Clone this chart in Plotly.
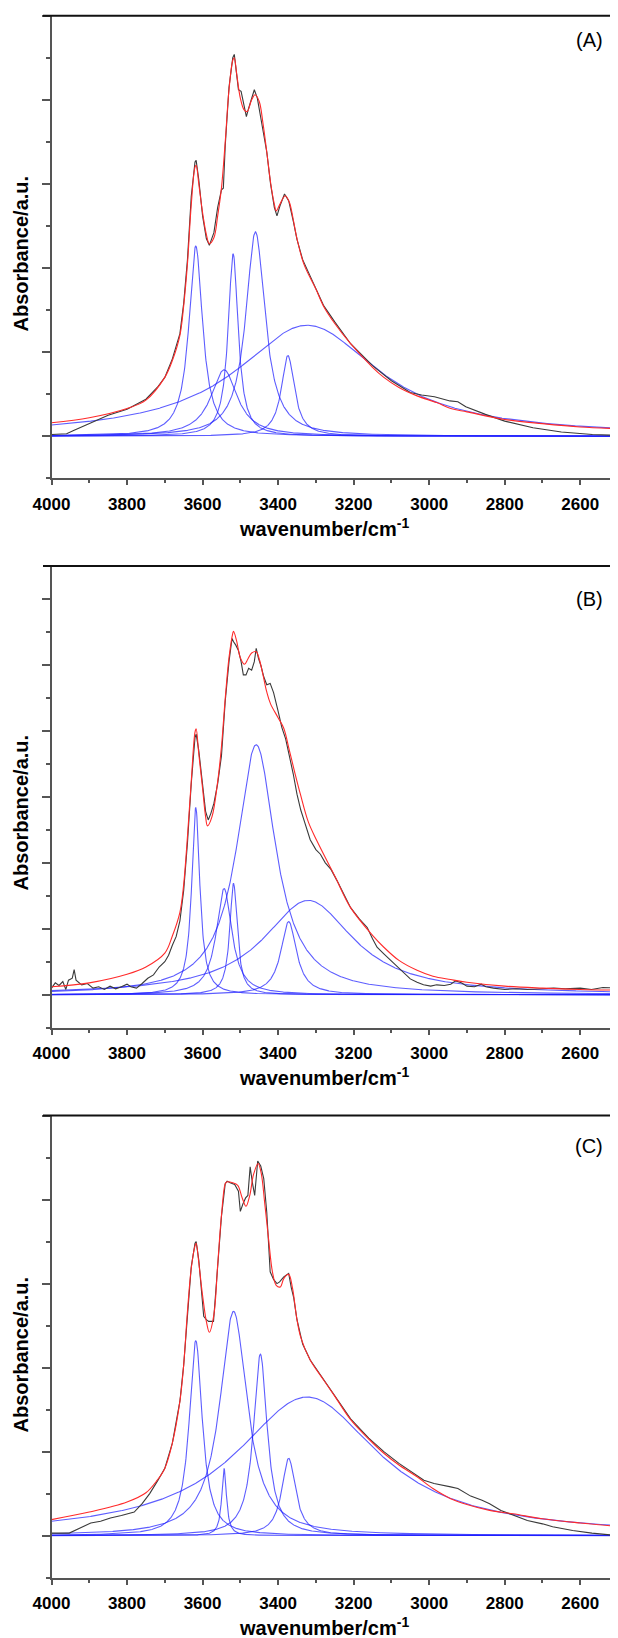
import numpy as np
import plotly.graph_objects as go

# ---------------- data ----------------
# Panel A
A_fit_wn = [4000,3900,3800,3750,3700,3680,3660,3650,3640,3630,3620,3617,3610,3600,3590,3582,3570,3560,3550,3540,3530,3520,3516,3510,3500,3490,3482,3470,3461,3450,3440,3430,3420,3410,3405,3395,3381,3370,3360,3350,3332,3300,3279,3250,3208,3150,3120,3080,3032,2980,2943,2900,2800,2700,2600,2500]
A_fit_ab = [0.16,0.22,0.33,0.43,0.70,0.90,1.20,1.55,2.05,2.75,3.20,3.22,3.00,2.66,2.40,2.29,2.36,2.62,2.95,3.50,4.12,4.47,4.50,4.32,4.02,3.88,3.86,4.00,4.06,3.98,3.72,3.38,3.02,2.76,2.68,2.76,2.86,2.78,2.58,2.35,2.05,1.75,1.54,1.34,1.10,0.82,0.70,0.58,0.48,0.40,0.33,0.29,0.20,0.15,0.11,0.09]
A_exp_wn = [4000,3960,3940,3900,3850,3800,3750,3720,3700,3680,3660,3650,3640,3630,3620,3617,3610,3600,3590,3582,3570,3560,3550,3545,3540,3530,3520,3516,3510,3505,3498,3490,3484,3478,3470,3463,3455,3445,3430,3420,3410,3403,3395,3383,3372,3360,3350,3335,3320,3300,3279,3250,3208,3150,3100,3050,3020,2986,2945,2924,2903,2851,2800,2725,2650,2568,2500]
A_exp_ab = [0.02,0.03,0.07,0.15,0.25,0.32,0.44,0.58,0.70,0.92,1.22,1.58,2.10,2.85,3.26,3.28,3.05,2.62,2.35,2.27,2.42,2.72,2.93,2.95,3.45,4.15,4.50,4.54,4.30,4.12,4.10,3.90,3.80,3.90,4.02,4.12,4.02,3.75,3.38,3.00,2.72,2.62,2.74,2.88,2.80,2.56,2.34,2.10,1.95,1.75,1.55,1.36,1.10,0.84,0.66,0.52,0.49,0.47,0.42,0.41,0.35,0.26,0.18,0.10,0.05,0.02,0.01]
A_band_center = [3618, 3519, 3460, 3543, 3374, 3323]
A_band_height = [2.26, 2.17, 2.43, 0.79, 0.96, 1.32]
A_band_fwhm   = [44, 32, 62, 85, 42, 455]

# Panel B
B_fit_wn = [4000,3900,3800,3750,3700,3680,3660,3650,3640,3630,3620,3617,3610,3600,3592,3587,3575,3560,3550,3540,3530,3520,3518,3510,3500,3489,3480,3470,3458,3450,3440,3430,3420,3400,3385,3370,3355,3341,3320,3297,3250,3208,3150,3120,3080,3032,2990,2943,2900,2800,2700,2600,2500]
B_fit_ab = [0.12,0.18,0.31,0.42,0.63,0.89,1.25,1.67,2.40,3.23,3.98,4.03,3.65,3.13,2.70,2.56,2.70,3.23,3.76,4.49,5.11,5.48,5.51,5.37,5.11,5.01,5.09,5.18,5.20,5.09,4.85,4.59,4.41,4.20,4.04,3.70,3.35,3.04,2.62,2.33,1.80,1.32,0.90,0.72,0.52,0.37,0.28,0.23,0.19,0.13,0.10,0.08,0.07]
B_exp_wn = [4000,3990,3980,3970,3962,3955,3945,3940,3935,3920,3905,3890,3875,3860,3845,3830,3815,3800,3790,3775,3760,3745,3730,3715,3700,3690,3680,3670,3660,3650,3640,3630,3620,3617,3610,3600,3592,3585,3578,3570,3560,3550,3540,3530,3522,3518,3512,3505,3498,3492,3485,3478,3470,3463,3458,3452,3445,3438,3430,3421,3412,3400,3390,3380,3370,3360,3350,3340,3330,3315,3300,3288,3275,3260,3244,3225,3208,3185,3164,3150,3138,3120,3102,3085,3067,3050,3032,3015,2996,2980,2960,2943,2930,2915,2900,2880,2862,2850,2830,2800,2770,2740,2700,2670,2640,2600,2570,2540,2500]
B_exp_ab = [0.10,0.18,0.14,0.20,0.08,0.22,0.25,0.38,0.22,0.15,0.17,0.10,0.12,0.08,0.13,0.09,0.12,0.16,0.12,0.10,0.17,0.25,0.30,0.42,0.50,0.60,0.75,0.88,1.12,1.58,2.30,3.20,3.90,3.95,3.70,3.15,2.78,2.65,2.75,2.90,3.20,3.62,4.45,5.05,5.40,5.35,5.30,5.22,5.05,4.85,4.85,4.95,4.92,5.05,5.25,5.10,4.98,4.82,4.70,4.72,4.58,4.30,4.05,3.88,3.62,3.35,3.04,2.80,2.62,2.35,2.20,2.13,2.00,1.90,1.73,1.50,1.32,1.15,1.02,0.85,0.72,0.62,0.52,0.42,0.32,0.24,0.19,0.15,0.13,0.15,0.14,0.16,0.21,0.18,0.13,0.12,0.16,0.12,0.10,0.08,0.09,0.08,0.09,0.10,0.09,0.10,0.08,0.11,0.10]
B_band_center = [3618, 3543, 3518, 3458, 3372, 3320]
B_band_height = [2.84, 1.61, 1.69, 3.79, 1.11, 1.43]
B_band_fwhm   = [26, 50, 24, 125, 50, 290]

# Panel C
C_fit_wn = [4000,3900,3800,3750,3720,3700,3680,3660,3650,3640,3630,3620,3617,3610,3600,3590,3582,3570,3560,3550,3540,3536,3520,3507,3495,3485,3475,3465,3453,3445,3435,3425,3415,3405,3394,3385,3372,3362,3350,3340,3315,3279,3250,3208,3160,3120,3080,3032,2990,2943,2900,2840,2778,2700,2600,2500]
C_fit_ab = [0.19,0.28,0.40,0.51,0.66,0.80,1.10,1.60,2.03,2.67,3.18,3.45,3.48,3.25,2.86,2.55,2.42,2.63,3.22,3.81,4.19,4.21,4.20,4.17,4.02,3.92,4.05,4.30,4.43,4.32,3.94,3.52,3.14,2.98,2.96,3.06,3.11,2.95,2.57,2.36,2.09,1.85,1.66,1.38,1.15,0.98,0.84,0.70,0.56,0.44,0.37,0.30,0.26,0.20,0.15,0.11]
C_exp_wn = [4000,3953,3920,3896,3870,3844,3815,3781,3760,3740,3718,3700,3680,3660,3650,3640,3630,3620,3617,3610,3603,3597,3590,3584,3571,3560,3550,3540,3535,3527,3515,3505,3500,3493,3486,3480,3474,3468,3462,3454,3446,3438,3430,3421,3412,3403,3396,3385,3372,3365,3359,3350,3335,3315,3279,3250,3208,3160,3120,3080,3040,3014,2987,2960,2943,2924,2890,2860,2840,2810,2778,2740,2700,2673,2620,2569,2500]
C_exp_ab = [0.03,0.03,0.10,0.15,0.17,0.21,0.24,0.28,0.38,0.50,0.66,0.80,1.10,1.60,2.03,2.67,3.20,3.48,3.50,3.28,2.95,2.61,2.57,2.55,2.55,3.20,3.80,4.19,4.22,4.20,4.18,4.10,3.86,3.95,4.02,4.05,4.39,4.20,4.05,4.46,4.40,4.25,3.85,3.14,3.05,3.00,3.02,3.08,3.12,2.95,2.84,2.57,2.28,2.09,1.85,1.66,1.39,1.16,1.00,0.86,0.74,0.66,0.62,0.60,0.58,0.56,0.47,0.42,0.38,0.30,0.245,0.18,0.14,0.106,0.06,0.03,0.0]
C_band_center = [3618, 3518, 3447, 3543, 3372, 3323]
C_band_height = [2.32, 2.67, 2.16, 0.80, 0.92, 1.65]
C_band_fwhm   = [42, 88, 44, 15, 44, 460]

panel_labels = ["(A)", "(B)", "(C)"]
x_ticks = [4000, 3800, 3600, 3400, 3200, 3000, 2800, 2600]
y_title = "Absorbance/a.u."
x_title = "wavenumber/cm<sup>-1</sup>"

# ---------------- layout geometry (window pixels) ----------------
OFF = 8                     # page body margin of the html page
W, H = 618 - OFF, 1638 - OFF
XL = 51.5


def px(x):
    return (x - OFF) / W


def py(y):
    return 1 - (y - OFF) / H


panels = [
    dict(top=15.7, bottom=478.3, yr=[-0.5, 5.0], lab_y=39.5, yt_y=254, fit=(A_fit_wn, A_fit_ab), exp=(A_exp_wn, A_exp_ab),
         bands=(A_band_center, A_band_height, A_band_fwhm)),
    dict(top=566.0, bottom=1027.7, yr=[-0.5, 6.5], lab_y=599, yt_y=813, fit=(B_fit_wn, B_fit_ab), exp=(B_exp_wn, B_exp_ab),
         bands=(B_band_center, B_band_height, B_band_fwhm)),
    dict(top=1115.6, bottom=1577.6, yr=[-0.5, 5.0], lab_y=1146, yt_y=1355, fit=(C_fit_wn, C_fit_ab), exp=(C_exp_wn, C_exp_ab),
         bands=(C_band_center, C_band_height, C_band_fwhm)),
]

FONT = "Liberation Sans, Arial, sans-serif"
AXC = "#555555"
grid = np.linspace(4000, 2500, 1501)

fig = go.Figure()
shapes, annots = [], []
for i, p in enumerate(panels, start=1):
    xa, ya = ("x" if i == 1 else f"x{i}"), ("y" if i == 1 else f"y{i}")
    for c, h, w in zip(*p["bands"]):
        g = w / 2.0
        fig.add_trace(go.Scatter(x=grid, y=h / (1 + ((grid - c) / g) ** 2), mode="lines",
                                 line=dict(color="rgba(30,30,255,0.72)", width=1.1), xaxis=xa, yaxis=ya,
                                 hoverinfo="skip"))
    fig.add_trace(go.Scatter(x=p["exp"][0], y=p["exp"][1], mode="lines",
                             line=dict(color="#3a3a3a", width=1.1), xaxis=xa, yaxis=ya))
    fig.add_trace(go.Scatter(x=p["fit"][0], y=p["fit"][1], mode="lines", line_shape="spline",
                             line=dict(color="#ff2a2a", width=1.1), xaxis=xa, yaxis=ya))

    d0 = py(p["bottom"])
    d1 = py(p["top"])
    sfx = "" if i == 1 else str(i)
    fig.layout["xaxis" + sfx] = dict(
        domain=[px(XL), 1.0], range=[4000, 2500], anchor=ya, showline=True, linecolor=AXC, linewidth=2,
        ticks="outside", ticklen=5, tickwidth=1.5, tickcolor=AXC, tickvals=x_ticks,
        minor=dict(dtick=100, tick0=4000, ticks="outside", ticklen=3, tickwidth=1.5, tickcolor=AXC),
        tickfont=dict(family=FONT, size=17, color="black", weight="bold"), ticklabelstandoff=4,
        showgrid=False, zeroline=False, fixedrange=True, automargin=False)
    fig.layout["yaxis" + sfx] = dict(
        domain=[d0, d1], range=p["yr"], anchor=xa, showline=True, linecolor=AXC, linewidth=2,
        ticks="outside", ticklen=8, tickwidth=1.5, tickcolor=AXC, tick0=0, dtick=1,
        minor=dict(tick0=0, dtick=0.5, ticks="outside", ticklen=4, tickwidth=1.5, tickcolor=AXC),
        showticklabels=False, showgrid=False, zeroline=False, fixedrange=True, automargin=False)
    shapes.append(dict(type="line", xref="paper", yref="paper", x0=px(43), x1=1.0, y0=d1, y1=d1,
                       line=dict(color="#111111", width=2)))
    annots.append(dict(text=panel_labels[i - 1], xref="paper", yref="paper", x=px(589), y=py(p["lab_y"]),
                       xanchor="center", yanchor="middle", showarrow=False,
                       font=dict(family=FONT, size=20, color="black")))
    annots.append(dict(text=y_title, xref="paper", yref="paper", x=px(20.5), y=py(p["yt_y"]),
                       xanchor="center", yanchor="middle", textangle=-90, showarrow=False,
                       font=dict(family=FONT, size=20, color="black", weight="bold")))
    annots.append(dict(text=x_title, xref="paper", yref="paper", x=px(324), y=py(p["bottom"] + 49),
                       xanchor="center", yanchor="middle", showarrow=False,
                       font=dict(family=FONT, size=20, color="black", weight="bold")))

fig.update_layout(width=W, height=H, margin=dict(l=0, r=0, t=0, b=0, pad=0, autoexpand=False), showlegend=False,
                  plot_bgcolor="white", paper_bgcolor="white", shapes=shapes, annotations=annots)
fig.write_html("out.html")
